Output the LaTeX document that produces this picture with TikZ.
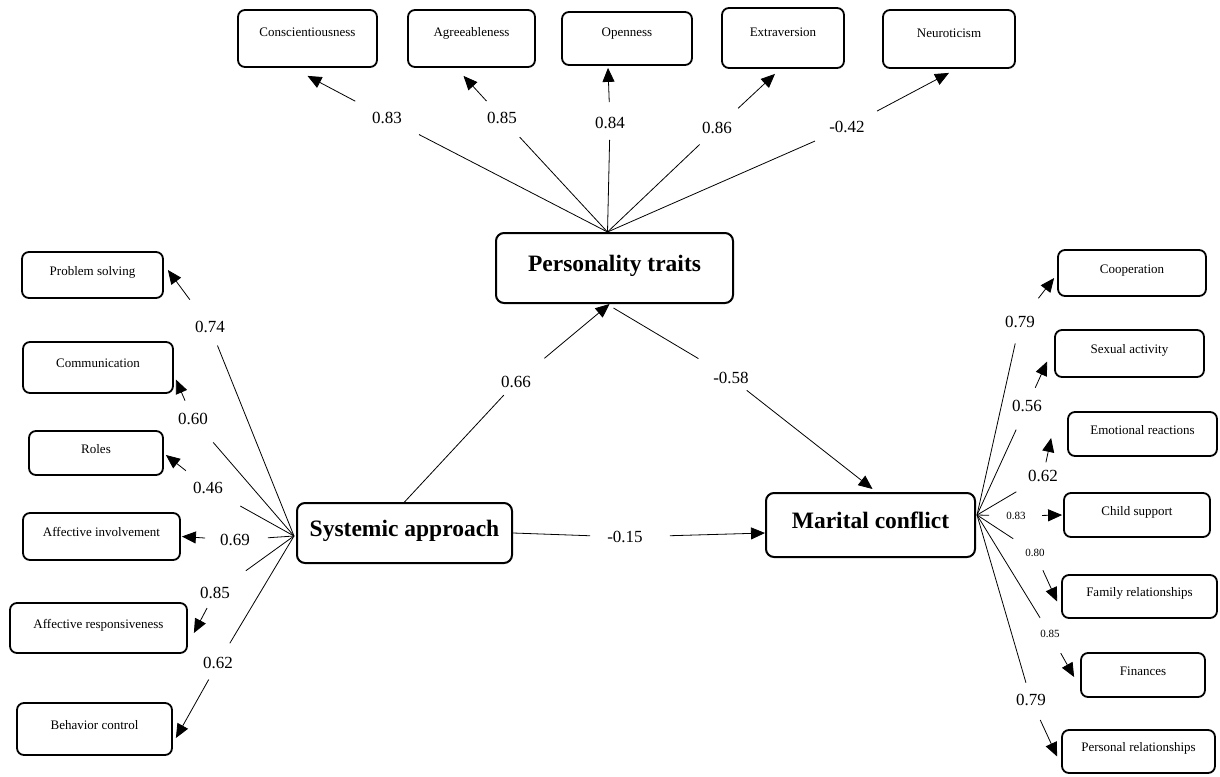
\documentclass[tikz,border=0pt]{standalone}
\usepackage{fontspec}
\setmainfont{Liberation Serif}
\usetikzlibrary{arrows.meta}

\begin{document}
\begin{tikzpicture}[x=1pt,y=-1pt,
  trait/.style={draw,line width=1.8pt,rounded corners=7pt,inner sep=0pt,
    text height=9pt,text depth=8.5pt,font=\fontsize{13}{15}\selectfont},
  top-trait/.style={trait,text depth=12pt},
  construct/.style={draw,line width=2pt,rounded corners=8pt,inner sep=0pt,
    text height=17pt,text depth=11pt,font=\fontsize{23.5}{28}\selectfont\bfseries},
  loading/.style={inner sep=0pt,font=\fontsize{17}{20}\selectfont},
  small-loading/.style={inner sep=0pt,font=\fontsize{11}{13}\selectfont},
  to-loading/.style={line width=0.8pt,shorten >=#1},
  from-loading/.style={line width=0.8pt,shorten <=#1,-{Triangle[length=14pt,width=12pt]}}]

\useasboundingbox (0,0) rectangle (1220,776);

\node[top-trait,minimum width=139pt,minimum height=57pt] (conscientiousness) at (307.5,38.5) {Conscientiousness};
\node[top-trait,minimum width=127pt,minimum height=57pt] (agreeableness) at (471.5,38.5) {Agreeableness};
\node[top-trait,minimum width=130pt,minimum height=53pt] (openness) at (627,38.5) {Openness};
\node[top-trait,minimum width=122pt,minimum height=60pt] (extraversion) at (783,38) {Extraversion};
\node[top-trait,minimum width=132pt,minimum height=58pt] (neuroticism) at (949,39) {Neuroticism};

\node[construct,minimum width=237pt,minimum height=70pt] (personality-traits) at (614.5,268) {Personality traits};
\node[construct,minimum width=215pt,minimum height=60pt] (systemic-approach) at (404.5,533) {Systemic approach};
\node[construct,minimum width=209pt,minimum height=64pt] (marital-conflict) at (870.5,525) {Marital conflict};

\node[trait,minimum width=141pt,minimum height=46pt] (problem-solving) at (92.5,275) {Problem solving};
\node[trait,minimum width=150pt,minimum height=51pt] (communication) at (98,367.5) {Communication};
\node[trait,minimum width=134pt,minimum height=44pt] (roles) at (96,453) {Roles};
\node[trait,minimum width=157pt,minimum height=47pt] (affective-involvement) at (101.5,536.5) {Affective involvement};
\node[trait,minimum width=177pt,minimum height=50pt] (affective-responsiveness) at (98.5,628) {Affective responsiveness};
\node[trait,minimum width=155pt,minimum height=52pt] (behavior-control) at (94.5,729) {Behavior control};

\node[trait,minimum width=148pt,minimum height=46pt] (cooperation) at (1132,273) {Cooperation};
\node[trait,minimum width=149pt,minimum height=47pt] (sexual-activity) at (1129.5,353.5) {Sexual activity};
\node[trait,minimum width=149pt,minimum height=44pt] (emotional-reactions) at (1142.5,434) {Emotional reactions};
\node[trait,minimum width=146pt,minimum height=44pt] (child-support) at (1137,515) {Child support};
\node[trait,minimum width=155pt,minimum height=43pt] (family-relationships) at (1139.5,596.5) {Family relationships};
\node[trait,minimum width=124pt,minimum height=44pt] (finances) at (1143,675) {Finances};
\node[trait,minimum width=153pt,minimum height=43pt] (personal-relationships) at (1138.5,751.5) {Personal relationships};

\coordinate (personality-traits-fan) at ([xshift=-7pt]personality-traits.north);
\coordinate (systemic-approach-fan) at ([xshift=-2pt,yshift=-3pt]systemic-approach.west);
\coordinate (marital-conflict-fan) at ([xshift=1pt,yshift=10pt]marital-conflict.east);

\node[loading] (conscientiousness-loading) at (387,118) {0.83};
\node[loading] (agreeableness-loading) at (502,118) {0.85};
\node[loading] (openness-loading) at (610,123) {0.84};
\node[loading] (extraversion-loading) at (717,128) {0.86};
\node[loading] (neuroticism-loading) at (847,127) {-0.42};

\node[loading] (problem-solving-loading) at (210,327) {0.74};
\node[loading] (communication-loading) at (193,419) {0.60};
\node[loading] (roles-loading) at (208,488) {0.46};
\node[loading] (affective-involvement-loading) at (235,540) {0.69};
\node[loading] (affective-responsiveness-loading) at (215,593) {0.85};
\node[loading] (behavior-control-loading) at (218,663) {0.62};

\node[loading] (cooperation-loading) at (1020,322) {0.79};
\node[loading] (sexual-activity-loading) at (1027,406) {0.56};
\node[loading] (emotional-reactions-loading) at (1043,476) {0.62};
\node[small-loading] (child-support-loading) at (1016,516) {0.83};
\node[small-loading] (family-relationships-loading) at (1035,553) {0.80};
\node[small-loading] (finances-loading) at (1050,634) {0.85};
\node[loading] (personal-relationships-loading) at (1031,700) {0.79};

\node[loading] (systemic-personality-loading) at (516,382) {0.66};
\node[loading] (personality-marital-loading) at (731,378) {-0.58};
\node[loading] (systemic-marital-loading) at (625,537) {-0.15};

\draw[to-loading=36pt] (personality-traits-fan) -- (conscientiousness-loading.center);
\draw[from-loading=36pt] (conscientiousness-loading.center) -- ([yshift=-8pt]conscientiousness.south);
\draw[to-loading=26pt] (personality-traits-fan) -- (agreeableness-loading.center);
\draw[from-loading=23pt] (agreeableness-loading.center) -- ([xshift=-8pt,yshift=-8pt]agreeableness.south);
\draw[to-loading=17pt] (personality-traits-fan) -- (openness-loading.center);
\draw[from-loading=21pt] (openness-loading.center) -- ([xshift=-19pt,yshift=-2pt]openness.south);
\draw[to-loading=24pt] (personality-traits-fan) -- (extraversion-loading.center);
\draw[from-loading=29pt] (extraversion-loading.center) -- ([xshift=-8pt,yshift=-5pt]extraversion.south);
\draw[to-loading=35pt] (personality-traits-fan) -- (neuroticism-loading.center);
\draw[from-loading=34pt] (neuroticism-loading.center) -- ([yshift=-4pt]neuroticism.south);

\draw[to-loading=20pt] (systemic-approach-fan) -- (problem-solving-loading.center);
\draw[from-loading=34pt] (problem-solving-loading.center) -- ([xshift=4pt,yshift=5pt]problem-solving.east);
\draw[to-loading=31pt] (systemic-approach-fan) -- (communication-loading.center);
\draw[from-loading=20pt] (communication-loading.center) -- ([xshift=2pt,yshift=-12pt]communication.east);
\draw[to-loading=37pt] (systemic-approach-fan) -- (roles-loading.center);
\draw[from-loading=28pt] (roles-loading.center) -- ([xshift=2pt,yshift=-2pt]roles.east);
\draw[to-loading=33pt] (systemic-approach-fan) -- (affective-involvement-loading.center);
\draw[from-loading=30pt] (affective-involvement-loading.center) -- ([xshift=1pt]affective-involvement.east);
\draw[to-loading=38pt] (systemic-approach-fan) -- (affective-responsiveness-loading.center);
\draw[from-loading=17pt] (affective-responsiveness-loading.center) -- ([xshift=6pt,yshift=-5pt]affective-responsiveness.east);
\draw[to-loading=23pt] (systemic-approach-fan) -- (behavior-control-loading.center);
\draw[from-loading=19pt] (behavior-control-loading.center) -- ([xshift=3pt,yshift=-9pt]behavior-control.east);

\draw[to-loading=22pt] (marital-conflict-fan) -- (cooperation-loading.center);
\draw[from-loading=30pt] (cooperation-loading.center) -- ([xshift=-3pt,yshift=-5pt]cooperation.west);
\draw[to-loading=26pt] (marital-conflict-fan) -- (sexual-activity-loading.center);
\draw[from-loading=20pt] (sexual-activity-loading.center) -- ([xshift=-7pt,yshift=-8pt]sexual-activity.west);
\draw[to-loading=31pt] (marital-conflict-fan) -- (emotional-reactions-loading.center);
\draw[from-loading=14pt] (emotional-reactions-loading.center) -- ([xshift=-16pt,yshift=-4pt]emotional-reactions.west);
\draw[to-loading=27pt] (marital-conflict-fan) -- (child-support-loading.center);
\draw[from-loading=26pt] (child-support-loading.center) -- ([xshift=-1pt]child-support.west);
\draw[to-loading=26pt] (marital-conflict-fan) -- (family-relationships-loading.center);
\draw[from-loading=19pt] (family-relationships-loading.center) -- ([xshift=-4pt,yshift=-5pt]family-relationships.west);
\draw[to-loading=19pt] (marital-conflict-fan) -- (finances-loading.center);
\draw[from-loading=22pt] (finances-loading.center) -- ([xshift=-6pt,yshift=-2pt]finances.west);
\draw[to-loading=18pt] (marital-conflict-fan) -- (personal-relationships-loading.center);
\draw[from-loading=22pt] (personal-relationships-loading.center) -- ([xshift=-4pt,yshift=-5pt]personal-relationships.west);

\draw[to-loading=18pt] (systemic-approach.north) -- (systemic-personality-loading.center);
\draw[from-loading=37pt] (systemic-personality-loading.center) -- ([xshift=-5pt]personality-traits.south);
\draw[to-loading=38pt] ([xshift=-1pt,yshift=-4pt]personality-traits.south) -- (personality-marital-loading.center);
\draw[from-loading=20pt] (personality-marital-loading.center) -- ([xshift=2pt,yshift=3pt]marital-conflict.north);
\draw[to-loading=35pt] (systemic-approach.east) -- (systemic-marital-loading.center);
\draw[from-loading=45pt] (systemic-marital-loading.center) -- ([yshift=-8pt]marital-conflict.west);

\end{tikzpicture}
\end{document}
